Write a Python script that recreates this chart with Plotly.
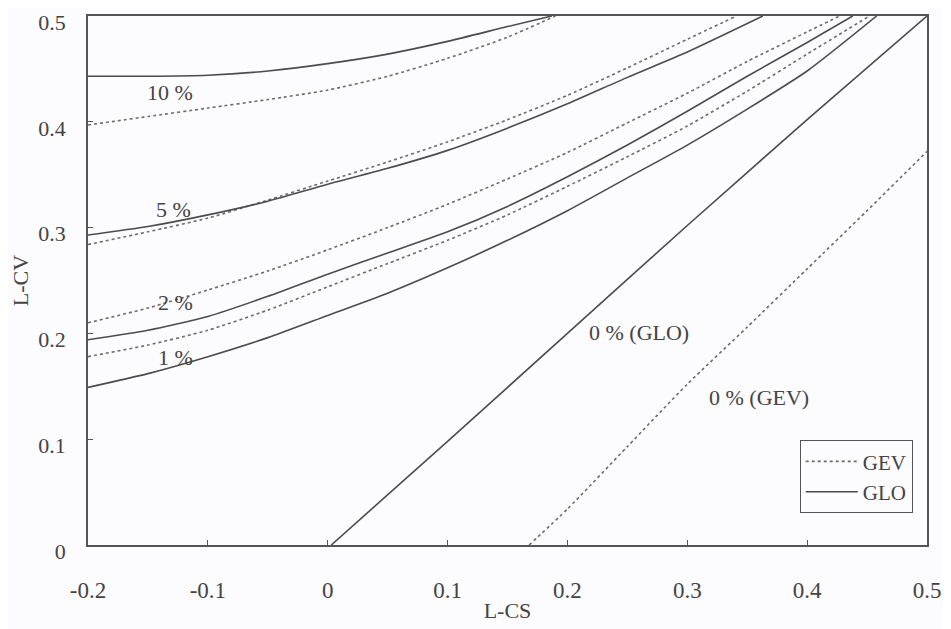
import plotly.graph_objects as go

# ---- data ----
glo10_x = [-0.2, -0.15, -0.1, -0.05, 0.0, 0.05, 0.1, 0.15, 0.187]
glo10_y = [0.443, 0.443, 0.444, 0.448, 0.455, 0.464, 0.476, 0.490, 0.5]
gev10_x = [-0.2, -0.15, -0.1, -0.05, 0.0, 0.05, 0.1, 0.15, 0.19]
gev10_y = [0.397, 0.405, 0.413, 0.421, 0.430, 0.443, 0.460, 0.480, 0.5]

glo5_x = [-0.2, -0.15, -0.1, -0.05, 0.0, 0.05, 0.1, 0.15, 0.2, 0.25, 0.3, 0.363]
glo5_y = [0.293, 0.301, 0.312, 0.325, 0.341, 0.356, 0.373, 0.394, 0.417, 0.442, 0.466, 0.5]
gev5_x = [-0.2, -0.15, -0.1, -0.05, 0.0, 0.05, 0.1, 0.15, 0.2, 0.25, 0.3, 0.341]
gev5_y = [0.284, 0.296, 0.309, 0.326, 0.344, 0.362, 0.381, 0.402, 0.425, 0.451, 0.478, 0.5]

glo2_x = [-0.2, -0.15, -0.1, -0.05, 0.0, 0.05, 0.1, 0.15, 0.2, 0.25, 0.3, 0.35, 0.4, 0.438]
glo2_y = [0.194, 0.203, 0.216, 0.235, 0.256, 0.276, 0.296, 0.320, 0.348, 0.378, 0.410, 0.443, 0.475, 0.5]
gev2_x = [-0.2, -0.15, -0.1, -0.05, 0.0, 0.05, 0.1, 0.15, 0.2, 0.25, 0.3, 0.35, 0.4, 0.427]
gev2_y = [0.210, 0.224, 0.241, 0.259, 0.279, 0.300, 0.322, 0.346, 0.371, 0.399, 0.427, 0.457, 0.485, 0.5]

glo1_x = [-0.2, -0.15, -0.1, -0.05, 0.0, 0.05, 0.1, 0.15, 0.2, 0.25, 0.3, 0.35, 0.4, 0.458]
glo1_y = [0.149, 0.162, 0.178, 0.196, 0.217, 0.238, 0.262, 0.288, 0.316, 0.347, 0.378, 0.412, 0.448, 0.5]
gev1_x = [-0.2, -0.15, -0.1, -0.05, 0.0, 0.05, 0.1, 0.15, 0.2, 0.25, 0.3, 0.35, 0.4, 0.452]
gev1_y = [0.178, 0.189, 0.203, 0.222, 0.244, 0.266, 0.288, 0.312, 0.339, 0.367, 0.396, 0.429, 0.464, 0.5]

glo0_x = [0.003, 0.1, 0.2, 0.3, 0.4, 0.5]
glo0_y = [0.0, 0.098, 0.2, 0.302, 0.402, 0.5]
gev0_x = [0.168, 0.2, 0.25, 0.3, 0.35, 0.4, 0.45, 0.5]
gev0_y = [0.0, 0.034, 0.093, 0.152, 0.206, 0.261, 0.316, 0.372]

label_text = ["10 %", "5 %", "2 %", "1 %", "0 % (GLO)", "0 % (GEV)"]
label_x = [-0.132, -0.129, -0.127, -0.127, 0.260, 0.360]
label_y = [0.428, 0.317, 0.229, 0.177, 0.201, 0.139]

x_ticks = [-0.2, -0.1, 0, 0.1, 0.2, 0.3, 0.4, 0.5]
x_ticktext = ["-0.2", "-0.1", "0", "0.1", "0.2", "0.3", "0.4", "0.5"]
y_ticks = [0, 0.1, 0.2, 0.3, 0.4, 0.5]
y_ticktext = ["0", "0.1", "0.2", "0.3", "0.4", "0.5"]

FONT = "Liberation Serif, Times New Roman, serif"
TXT = "#444444"
SOLID_C = "#4c4c4c"
DOT_C = "#6c6c6c"
BG = "#fcfbfd"

fig = go.Figure()

gev_series = [(gev10_x, gev10_y), (gev5_x, gev5_y), (gev2_x, gev2_y), (gev1_x, gev1_y), (gev0_x, gev0_y)]
glo_series = [(glo10_x, glo10_y), (glo5_x, glo5_y), (glo2_x, glo2_y), (glo1_x, glo1_y), (glo0_x, glo0_y)]

for i, (xs, ys) in enumerate(gev_series):
    fig.add_trace(go.Scatter(x=xs, y=ys, mode="lines", name="GEV", legendgroup="GEV",
                             showlegend=(i == 0),
                             line=dict(color=DOT_C, width=1.6, dash="3px,3px", shape="spline", smoothing=0.6)))
for i, (xs, ys) in enumerate(glo_series):
    fig.add_trace(go.Scatter(x=xs, y=ys, mode="lines", name="GLO", legendgroup="GLO",
                             showlegend=(i == 0),
                             line=dict(color=SOLID_C, width=1.6, shape="spline", smoothing=0.6)))

for t, lx, ly in zip(label_text, label_x, label_y):
    fig.add_annotation(x=lx, y=ly, text=t, showarrow=False, xanchor="center", yanchor="middle",
                       font=dict(family=FONT, size=22, color=TXT), bgcolor="rgba(0,0,0,0)")

axis_common = dict(showgrid=False, zeroline=False, showline=True, linecolor="#555555", linewidth=1.5,
                   mirror=True, ticks="inside", ticklen=5, tickcolor="#555555", tickwidth=1,
                   automargin=False, ticklabeloverflow="allow")

fig.update_xaxes(range=[-0.2, 0.5], tickvals=x_ticks, ticktext=x_ticktext, ticklabelstandoff=24,
                 tickfont=dict(family=FONT, size=23, color=TXT),
                 title=dict(text="L-CS", font=dict(family=FONT, size=22, color=TXT), standoff=0),
                 **axis_common)
fig.update_yaxes(range=[0, 0.5], tickvals=y_ticks, ticktext=y_ticktext, ticklabelstandoff=16,
                 ticklabelshift=6, tickfont=dict(family=FONT, size=22, color=TXT),
                 title=dict(text="L-CV", font=dict(family=FONT, size=22, color=TXT), standoff=4),
                 **axis_common)

# the page body adds an 8px offset, so the figure is sized to 943x621
fig.update_layout(
    width=943, height=621,
    margin=dict(l=80, r=24, t=8, b=84),
    paper_bgcolor=BG, plot_bgcolor=BG,
    font=dict(family=FONT, size=22, color=TXT),
    legend=dict(x=0.983, y=0.06, xanchor="right", yanchor="bottom",
                bgcolor="rgba(0,0,0,0)", bordercolor="#555555", borderwidth=1,
                font=dict(family=FONT, size=21, color=TXT), tracegroupgap=0, itemwidth=52),
    showlegend=True,
)

fig.write_html("out.html")
